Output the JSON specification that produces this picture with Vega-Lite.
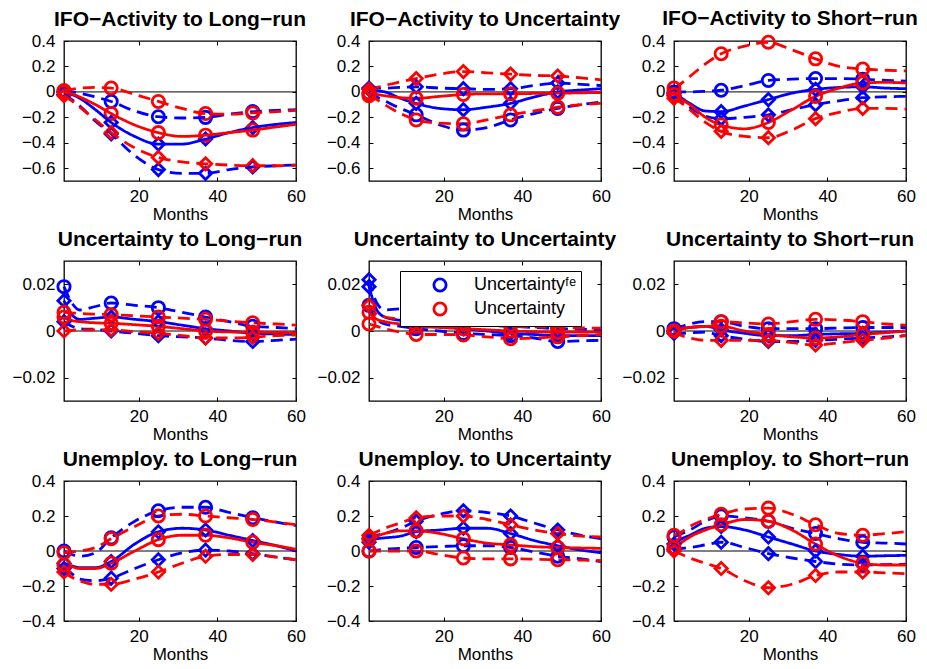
{
"$schema": "https://vega.github.io/schema/vega-lite/v6.json",
"background": "white",
"padding": {"left": 11, "top": 6, "right": 5, "bottom": 5},
"bounds": "flush",
"columns": 3,
"spacing": {"row": 80, "column": 73},
"data": {"values": [
{"p":1,"m":1,"fe16":-0.02,"fe50":0,"fe84":0,"u16":-0.03,"u50":0,"u84":0.01},
{"p":1,"m":3,"fe16":-0.06,"fe50":-0.02,"fe84":0,"u16":-0.07,"u50":-0.015,"u84":0.02},
{"p":1,"m":5,"fe16":-0.11,"fe50":-0.05,"fe84":-0.01,"u16":-0.12,"u50":-0.04,"u84":0.03},
{"p":1,"m":9,"fe16":-0.23,"fe50":-0.14,"fe84":-0.04,"u16":-0.22,"u50":-0.1,"u84":0.035},
{"p":1,"m":13,"fe16":-0.33,"fe50":-0.24,"fe84":-0.075,"u16":-0.32,"u50":-0.17,"u84":0.03},
{"p":1,"m":19,"fe16":-0.5,"fe50":-0.35,"fe84":-0.15,"u16":-0.44,"u50":-0.26,"u84":-0.02},
{"p":1,"m":25,"fe16":-0.61,"fe50":-0.41,"fe84":-0.195,"u16":-0.515,"u50":-0.32,"u84":-0.075},
{"p":1,"m":31,"fe16":-0.64,"fe50":-0.41,"fe84":-0.205,"u16":-0.55,"u50":-0.35,"u84":-0.13},
{"p":1,"m":37,"fe16":-0.64,"fe50":-0.37,"fe84":-0.2,"u16":-0.565,"u50":-0.34,"u84":-0.17},
{"p":1,"m":43,"fe16":-0.61,"fe50":-0.32,"fe84":-0.175,"u16":-0.575,"u50":-0.32,"u84":-0.175},
{"p":1,"m":49,"fe16":-0.59,"fe50":-0.28,"fe84":-0.155,"u16":-0.58,"u50":-0.3,"u84":-0.165},
{"p":1,"m":55,"fe16":-0.58,"fe50":-0.255,"fe84":-0.145,"u16":-0.58,"u50":-0.275,"u84":-0.155},
{"p":1,"m":60,"fe16":-0.575,"fe50":-0.24,"fe84":-0.14,"u16":-0.575,"u50":-0.255,"u84":-0.145},
{"p":2,"m":1,"fe16":0.03,"fe50":0.02,"fe84":-0.01,"u16":0.02,"u50":-0.01,"u84":-0.03},
{"p":2,"m":3,"fe16":0.03,"fe50":0.01,"fe84":-0.04,"u16":0.035,"u50":-0.02,"u84":-0.06},
{"p":2,"m":5,"fe16":0.03,"fe50":0,"fe84":-0.07,"u16":0.05,"u50":-0.03,"u84":-0.1},
{"p":2,"m":9,"fe16":0.035,"fe50":-0.05,"fe84":-0.13,"u16":0.08,"u50":-0.045,"u84":-0.17},
{"p":2,"m":13,"fe16":0.04,"fe50":-0.09,"fe84":-0.18,"u16":0.105,"u50":-0.05,"u84":-0.22},
{"p":2,"m":19,"fe16":0.03,"fe50":-0.13,"fe84":-0.26,"u16":0.14,"u50":-0.035,"u84":-0.245},
{"p":2,"m":25,"fe16":0.025,"fe50":-0.14,"fe84":-0.3,"u16":0.16,"u50":-0.02,"u84":-0.25},
{"p":2,"m":31,"fe16":0.02,"fe50":-0.12,"fe84":-0.28,"u16":0.15,"u50":-0.015,"u84":-0.22},
{"p":2,"m":37,"fe16":0.025,"fe50":-0.09,"fe84":-0.22,"u16":0.14,"u50":-0.015,"u84":-0.18},
{"p":2,"m":43,"fe16":0.05,"fe50":-0.04,"fe84":-0.17,"u16":0.13,"u50":-0.012,"u84":-0.15},
{"p":2,"m":49,"fe16":0.07,"fe50":0,"fe84":-0.13,"u16":0.125,"u50":-0.01,"u84":-0.12},
{"p":2,"m":55,"fe16":0.06,"fe50":0.015,"fe84":-0.1,"u16":0.11,"u50":-0.007,"u84":-0.1},
{"p":2,"m":60,"fe16":0.05,"fe50":0.025,"fe84":-0.08,"u16":0.095,"u50":-0.005,"u84":-0.09},
{"p":3,"m":1,"fe16":-0.03,"fe50":-0.01,"fe84":0,"u16":-0.05,"u50":-0.02,"u84":0.03},
{"p":3,"m":3,"fe16":-0.07,"fe50":-0.05,"fe84":0,"u16":-0.09,"u50":-0.06,"u84":0.07},
{"p":3,"m":5,"fe16":-0.12,"fe50":-0.09,"fe84":0,"u16":-0.14,"u50":-0.1,"u84":0.12},
{"p":3,"m":9,"fe16":-0.19,"fe50":-0.15,"fe84":0.005,"u16":-0.24,"u50":-0.2,"u84":0.22},
{"p":3,"m":13,"fe16":-0.21,"fe50":-0.155,"fe84":0.013,"u16":-0.31,"u50":-0.26,"u84":0.3},
{"p":3,"m":19,"fe16":-0.2,"fe50":-0.11,"fe84":0.05,"u16":-0.35,"u50":-0.29,"u84":0.36},
{"p":3,"m":25,"fe16":-0.18,"fe50":-0.06,"fe84":0.09,"u16":-0.36,"u50":-0.24,"u84":0.39},
{"p":3,"m":31,"fe16":-0.14,"fe50":-0.01,"fe84":0.1,"u16":-0.3,"u50":-0.14,"u84":0.33},
{"p":3,"m":37,"fe16":-0.1,"fe50":0.02,"fe84":0.105,"u16":-0.21,"u50":-0.035,"u84":0.26},
{"p":3,"m":43,"fe16":-0.07,"fe50":0.035,"fe84":0.105,"u16":-0.16,"u50":0.03,"u84":0.2},
{"p":3,"m":49,"fe16":-0.045,"fe50":0.04,"fe84":0.1,"u16":-0.13,"u50":0.07,"u84":0.18},
{"p":3,"m":55,"fe16":-0.038,"fe50":0.03,"fe84":0.09,"u16":-0.13,"u50":0.075,"u84":0.17},
{"p":3,"m":60,"fe16":-0.035,"fe50":0.025,"fe84":0.085,"u16":-0.135,"u50":0.07,"u84":0.165},
{"p":4,"m":1,"fe16":0.004,"fe50":0.013,"fe84":0.019,"u16":0,"u50":0.006,"u84":0.008},
{"p":4,"m":3,"fe16":0.002,"fe50":0.007,"fe84":0.012,"u16":0.0003,"u50":0.0045,"u84":0.0078},
{"p":4,"m":5,"fe16":0.001,"fe50":0.005,"fe84":0.009,"u16":0.0005,"u50":0.004,"u84":0.0075},
{"p":4,"m":9,"fe16":0.0007,"fe50":0.0055,"fe84":0.0105,"u16":0.0005,"u50":0.0035,"u84":0.0072},
{"p":4,"m":13,"fe16":0,"fe50":0.006,"fe84":0.012,"u16":0.0005,"u50":0.0033,"u84":0.007},
{"p":4,"m":19,"fe16":-0.001,"fe50":0.005,"fe84":0.011,"u16":-0.0003,"u50":0.0027,"u84":0.0065},
{"p":4,"m":25,"fe16":-0.002,"fe50":0.004,"fe84":0.01,"u16":-0.001,"u50":0.002,"u84":0.006},
{"p":4,"m":31,"fe16":-0.0025,"fe50":0.0025,"fe84":0.008,"u16":-0.002,"u50":0.001,"u84":0.0055},
{"p":4,"m":37,"fe16":-0.003,"fe50":0.001,"fe84":0.006,"u16":-0.003,"u50":0,"u84":0.005},
{"p":4,"m":43,"fe16":-0.004,"fe50":0,"fe84":0.004,"u16":-0.003,"u50":-0.0004,"u84":0.0042},
{"p":4,"m":49,"fe16":-0.0045,"fe50":-0.001,"fe84":0.002,"u16":-0.0027,"u50":-0.0005,"u84":0.0035},
{"p":4,"m":55,"fe16":-0.004,"fe50":-0.0013,"fe84":0.0015,"u16":-0.002,"u50":-0.0006,"u84":0.003},
{"p":4,"m":60,"fe16":-0.0035,"fe50":-0.0015,"fe84":0.001,"u16":-0.0017,"u50":-0.0007,"u84":0.0025},
{"p":5,"m":1,"fe16":0.022,"fe50":0.019,"fe84":0.011,"u16":0.011,"u50":0.008,"u84":0.003},
{"p":5,"m":3,"fe16":0.012,"fe50":0.009,"fe84":0.005,"u16":0.007,"u50":0.005,"u84":0.002},
{"p":5,"m":5,"fe16":0.009,"fe50":0.006,"fe84":0.003,"u16":0.006,"u50":0.004,"u84":0.001},
{"p":5,"m":9,"fe16":0.0095,"fe50":0.0045,"fe84":0.002,"u16":0.005,"u50":0.003,"u84":-0.0005},
{"p":5,"m":13,"fe16":0.007,"fe50":0.003,"fe84":0.001,"u16":0.004,"u50":0.002,"u84":-0.0015},
{"p":5,"m":19,"fe16":0.005,"fe50":0.002,"fe84":0,"u16":0.0035,"u50":0.0015,"u84":-0.0015},
{"p":5,"m":25,"fe16":0.003,"fe50":0.001,"fe84":-0.001,"u16":0.003,"u50":0.001,"u84":-0.0017},
{"p":5,"m":31,"fe16":0.0025,"fe50":0,"fe84":-0.0015,"u16":0.0025,"u50":0.0005,"u84":-0.0025},
{"p":5,"m":37,"fe16":0.002,"fe50":-0.001,"fe84":-0.002,"u16":0.002,"u50":0,"u84":-0.0033},
{"p":5,"m":43,"fe16":0.0015,"fe50":-0.0015,"fe84":-0.003,"u16":0.0018,"u50":-0.0003,"u84":-0.003},
{"p":5,"m":49,"fe16":0.001,"fe50":-0.002,"fe84":-0.0045,"u16":0.0015,"u50":-0.0005,"u84":-0.0025},
{"p":5,"m":55,"fe16":0.0008,"fe50":-0.002,"fe84":-0.0042,"u16":0.0013,"u50":-0.0005,"u84":-0.002},
{"p":5,"m":60,"fe16":0.0005,"fe50":-0.002,"fe84":-0.004,"u16":0.0012,"u50":-0.0005,"u84":-0.0015},
{"p":6,"m":1,"fe16":-0.001,"fe50":0,"fe84":0.001,"u16":0,"u50":0,"u84":0},
{"p":6,"m":3,"fe16":-0.001,"fe50":0.001,"fe84":0.002,"u16":-0.002,"u50":0.001,"u84":0.001},
{"p":6,"m":5,"fe16":-0.0008,"fe50":0.0015,"fe84":0.003,"u16":-0.003,"u50":0.0015,"u84":0.0015},
{"p":6,"m":9,"fe16":-0.0005,"fe50":0.002,"fe84":0.004,"u16":-0.004,"u50":0.002,"u84":0.002},
{"p":6,"m":13,"fe16":-0.002,"fe50":0.0005,"fe84":0.004,"u16":-0.004,"u50":0.002,"u84":0.004},
{"p":6,"m":19,"fe16":-0.0035,"fe50":-0.001,"fe84":0.002,"u16":-0.004,"u50":0,"u84":0.0035},
{"p":6,"m":25,"fe16":-0.0045,"fe50":-0.002,"fe84":0.001,"u16":-0.004,"u50":-0.0015,"u84":0.003},
{"p":6,"m":31,"fe16":-0.0045,"fe50":-0.002,"fe84":0.001,"u16":-0.005,"u50":-0.0025,"u84":0.004},
{"p":6,"m":37,"fe16":-0.004,"fe50":-0.0015,"fe84":0.001,"u16":-0.006,"u50":-0.003,"u84":0.005},
{"p":6,"m":43,"fe16":-0.0035,"fe50":-0.0012,"fe84":0.0013,"u16":-0.005,"u50":-0.0025,"u84":0.0047},
{"p":6,"m":49,"fe16":-0.003,"fe50":-0.001,"fe84":0.0015,"u16":-0.004,"u50":-0.0015,"u84":0.004},
{"p":6,"m":55,"fe16":-0.0025,"fe50":-0.0005,"fe84":0.0015,"u16":-0.003,"u50":-0.0007,"u84":0.003},
{"p":6,"m":60,"fe16":-0.002,"fe50":0,"fe84":0.0015,"u16":-0.002,"u50":0,"u84":0.0025},
{"p":7,"m":1,"fe16":-0.1,"fe50":-0.07,"fe84":0,"u16":-0.12,"u50":-0.08,"u84":-0.01},
{"p":7,"m":3,"fe16":-0.13,"fe50":-0.085,"fe84":-0.02,"u16":-0.15,"u50":-0.09,"u84":-0.005},
{"p":7,"m":5,"fe16":-0.16,"fe50":-0.095,"fe84":-0.03,"u16":-0.17,"u50":-0.1,"u84":0},
{"p":7,"m":9,"fe16":-0.17,"fe50":-0.095,"fe84":-0.01,"u16":-0.19,"u50":-0.1,"u84":0.02},
{"p":7,"m":13,"fe16":-0.155,"fe50":-0.06,"fe84":0.075,"u16":-0.19,"u50":-0.07,"u84":0.07},
{"p":7,"m":19,"fe16":-0.1,"fe50":0.04,"fe84":0.17,"u16":-0.16,"u50":0,"u84":0.14},
{"p":7,"m":25,"fe16":-0.05,"fe50":0.11,"fe84":0.23,"u16":-0.12,"u50":0.065,"u84":0.2},
{"p":7,"m":31,"fe16":-0.01,"fe50":0.13,"fe84":0.25,"u16":-0.07,"u50":0.09,"u84":0.21},
{"p":7,"m":37,"fe16":0.005,"fe50":0.12,"fe84":0.25,"u16":-0.03,"u50":0.09,"u84":0.2},
{"p":7,"m":43,"fe16":0,"fe50":0.09,"fe84":0.22,"u16":-0.02,"u50":0.075,"u84":0.19},
{"p":7,"m":49,"fe16":-0.015,"fe50":0.06,"fe84":0.19,"u16":-0.02,"u50":0.05,"u84":0.18},
{"p":7,"m":55,"fe16":-0.035,"fe50":0.03,"fe84":0.165,"u16":-0.035,"u50":0.03,"u84":0.165},
{"p":7,"m":60,"fe16":-0.05,"fe50":0,"fe84":0.145,"u16":-0.05,"u50":0.01,"u84":0.15},
{"p":8,"m":1,"fe16":0.07,"fe50":0.05,"fe84":0,"u16":0.09,"u50":0.07,"u84":0},
{"p":8,"m":3,"fe16":0.09,"fe50":0.07,"fe84":0.005,"u16":0.11,"u50":0.085,"u84":0},
{"p":8,"m":5,"fe16":0.1,"fe50":0.075,"fe84":0.01,"u16":0.13,"u50":0.1,"u84":0},
{"p":8,"m":9,"fe16":0.13,"fe50":0.085,"fe84":0.015,"u16":0.16,"u50":0.115,"u84":0},
{"p":8,"m":13,"fe16":0.17,"fe50":0.11,"fe84":0.02,"u16":0.19,"u50":0.115,"u84":0},
{"p":8,"m":19,"fe16":0.21,"fe50":0.12,"fe84":0.025,"u16":0.2,"u50":0.1,"u84":-0.02},
{"p":8,"m":25,"fe16":0.23,"fe50":0.13,"fe84":0.03,"u16":0.2,"u50":0.07,"u84":-0.04},
{"p":8,"m":31,"fe16":0.22,"fe50":0.13,"fe84":0.03,"u16":0.18,"u50":0.045,"u84":-0.045},
{"p":8,"m":37,"fe16":0.2,"fe50":0.1,"fe84":0.02,"u16":0.15,"u50":0.035,"u84":-0.045},
{"p":8,"m":43,"fe16":0.16,"fe50":0.06,"fe84":-0.005,"u16":0.12,"u50":0.025,"u84":-0.047},
{"p":8,"m":49,"fe16":0.12,"fe50":0.03,"fe84":-0.03,"u16":0.1,"u50":0.02,"u84":-0.05},
{"p":8,"m":55,"fe16":0.09,"fe50":0.005,"fe84":-0.045,"u16":0.085,"u50":0.017,"u84":-0.052},
{"p":8,"m":60,"fe16":0.07,"fe50":-0.01,"fe84":-0.06,"u16":0.08,"u50":0.015,"u84":-0.055},
{"p":9,"m":1,"fe16":0.01,"fe50":0.04,"fe84":0.08,"u16":0,"u50":0.02,"u84":0.09},
{"p":9,"m":3,"fe16":0.015,"fe50":0.07,"fe84":0.1,"u16":-0.02,"u50":0.05,"u84":0.11},
{"p":9,"m":5,"fe16":0.02,"fe50":0.09,"fe84":0.12,"u16":-0.04,"u50":0.08,"u84":0.14},
{"p":9,"m":9,"fe16":0.035,"fe50":0.13,"fe84":0.17,"u16":-0.07,"u50":0.12,"u84":0.18},
{"p":9,"m":13,"fe16":0.05,"fe50":0.14,"fe84":0.2,"u16":-0.1,"u50":0.15,"u84":0.21},
{"p":9,"m":19,"fe16":0.02,"fe50":0.12,"fe84":0.19,"u16":-0.17,"u50":0.18,"u84":0.24},
{"p":9,"m":25,"fe16":-0.015,"fe50":0.08,"fe84":0.17,"u16":-0.21,"u50":0.17,"u84":0.245},
{"p":9,"m":31,"fe16":-0.04,"fe50":0.04,"fe84":0.13,"u16":-0.19,"u50":0.12,"u84":0.21},
{"p":9,"m":37,"fe16":-0.06,"fe50":0,"fe84":0.1,"u16":-0.14,"u50":0.04,"u84":0.15},
{"p":9,"m":43,"fe16":-0.075,"fe50":-0.02,"fe84":0.07,"u16":-0.12,"u50":-0.03,"u84":0.1},
{"p":9,"m":49,"fe16":-0.08,"fe50":-0.03,"fe84":0.05,"u16":-0.12,"u50":-0.07,"u84":0.09},
{"p":9,"m":55,"fe16":-0.078,"fe50":-0.027,"fe84":0.045,"u16":-0.125,"u50":-0.08,"u84":0.1},
{"p":9,"m":60,"fe16":-0.075,"fe50":-0.025,"fe84":0.04,"u16":-0.13,"u50":-0.08,"u84":0.11}
]},
"transform": [
  {"fold": ["fe16","fe50","fe84","u16","u50","u84"], "as": ["key","v"]},
  {"calculate": "slice(datum.key, 0, -2)", "as": "model"},
  {"calculate": "'p' + slice(datum.key, -2)", "as": "pct"},
  {"calculate": "datum.pct == 'p50' ? datum.model : datum.pct", "as": "mk"}
],
"concat": [
  {"width": 232, "height": 140, "title": {"text": "IFO−Activity to Long−run", "offset": 2},
   "resolve": {"axis": {"x": "independent", "y": "independent"}},
   "layer": [
    {"data": {"values": [{}]}, "mark": {"type": "rule", "color": "black", "strokeWidth": 1}, "encoding": {"y": {"datum": 0, "axis": null}}},
    {"transform": [{"filter": "datum.p == 1 && datum.m % 12 == 1"}], "mark": {"type": "point", "filled": false, "opacity": 1, "strokeWidth": 2.8, "size": 150},
     "encoding": {"x": {"field": "m", "type": "quantitative", "axis": {"orient": "top", "labels": false, "title": null, "values": [20, 40, 60]}},
      "y": {"field": "v", "type": "quantitative", "axis": {"orient": "right", "labels": false, "title": null, "values": [-0.6, -0.4, -0.2, 0, 0.2, 0.4]}},
      "color": {"field": "model", "type": "nominal", "scale": {"domain": ["fe", "u"], "range": ["#0000ff", "#ff0000"]}, "legend": {"orient": "none", "legendX": 336, "legendY": 230, "title": null, "direction": "vertical", "strokeColor": "black", "fillColor": "white", "padding": 5, "labelFontSize": 18, "labelColor": "black", "symbolStrokeWidth": 2.8, "symbolSize": 150, "symbolOffset": 26, "labelOffset": 25, "rowPadding": 0, "labelExpr": "datum.value == 'fe' ? 'Uncertaintyᶠᵉ' : 'Uncertainty'", "encode": {"symbols": {"update": {"shape": {"signal": "datum.value == 'fe' ? 'diamond' : 'circle'"}}}}}},
      "shape": {"field": "mk", "type": "nominal", "scale": {"domain": ["fe", "u", "p16", "p84"], "range": ["diamond", "circle", "diamond", "circle"]}, "legend": null}}},
    {"transform": [{"filter": "datum.p == 1"}], "mark": {"type": "line", "interpolate": "monotone", "strokeWidth": 2.8},
     "encoding": {"x": {"field": "m", "type": "quantitative", "scale": {"domain": [1, 60], "nice": false, "zero": false}, "axis": {"values": [20, 40, 60], "title": "Months"}},
      "y": {"field": "v", "type": "quantitative", "scale": {"domain": [-0.7, 0.4], "nice": false, "zero": false}, "axis": {"values": [-0.6, -0.4, -0.2, 0, 0.2, 0.4], "format": "~g", "title": null}},
      "color": {"field": "model", "type": "nominal"},
      "strokeDash": {"field": "pct", "type": "nominal", "scale": {"domain": ["p50", "p16", "p84"], "range": [[1, 0], [12, 7], [12, 7]]}, "legend": null}}}
   ]},
  {"width": 232, "height": 140, "title": {"text": "IFO−Activity to Uncertainty", "offset": 2},
   "resolve": {"axis": {"x": "independent", "y": "independent"}},
   "layer": [
    {"data": {"values": [{}]}, "mark": {"type": "rule", "color": "black", "strokeWidth": 1}, "encoding": {"y": {"datum": 0, "axis": null}}},
    {"transform": [{"filter": "datum.p == 2"}], "mark": {"type": "line", "interpolate": "monotone", "strokeWidth": 2.8},
     "encoding": {"x": {"field": "m", "type": "quantitative", "scale": {"domain": [1, 60], "nice": false, "zero": false}, "axis": {"values": [20, 40, 60], "title": "Months"}},
      "y": {"field": "v", "type": "quantitative", "scale": {"domain": [-0.7, 0.4], "nice": false, "zero": false}, "axis": {"values": [-0.6, -0.4, -0.2, 0, 0.2, 0.4], "format": "~g", "title": null}},
      "color": {"field": "model", "type": "nominal", "scale": {"domain": ["fe", "u"], "range": ["#0000ff", "#ff0000"]}},
      "strokeDash": {"field": "pct", "type": "nominal", "scale": {"domain": ["p50", "p16", "p84"], "range": [[1, 0], [12, 7], [12, 7]]}, "legend": null}}},
    {"transform": [{"filter": "datum.p == 2 && datum.m % 12 == 1"}], "mark": {"type": "point", "filled": false, "opacity": 1, "strokeWidth": 2.8, "size": 150},
     "encoding": {"x": {"field": "m", "type": "quantitative", "axis": {"orient": "top", "labels": false, "title": null, "values": [20, 40, 60]}},
      "y": {"field": "v", "type": "quantitative", "axis": {"orient": "right", "labels": false, "title": null, "values": [-0.6, -0.4, -0.2, 0, 0.2, 0.4]}},
      "color": {"field": "model", "type": "nominal"},
      "shape": {"field": "mk", "type": "nominal", "scale": {"domain": ["fe", "u", "p16", "p84"], "range": ["diamond", "circle", "diamond", "circle"]}, "legend": null}}}
   ]},
  {"width": 232, "height": 140, "title": {"text": "IFO−Activity to Short−run", "offset": 2},
   "resolve": {"axis": {"x": "independent", "y": "independent"}},
   "layer": [
    {"data": {"values": [{}]}, "mark": {"type": "rule", "color": "black", "strokeWidth": 1}, "encoding": {"y": {"datum": 0, "axis": null}}},
    {"transform": [{"filter": "datum.p == 3"}], "mark": {"type": "line", "interpolate": "monotone", "strokeWidth": 2.8},
     "encoding": {"x": {"field": "m", "type": "quantitative", "scale": {"domain": [1, 60], "nice": false, "zero": false}, "axis": {"values": [20, 40, 60], "title": "Months"}},
      "y": {"field": "v", "type": "quantitative", "scale": {"domain": [-0.7, 0.4], "nice": false, "zero": false}, "axis": {"values": [-0.6, -0.4, -0.2, 0, 0.2, 0.4], "format": "~g", "title": null}},
      "color": {"field": "model", "type": "nominal", "scale": {"domain": ["fe", "u"], "range": ["#0000ff", "#ff0000"]}},
      "strokeDash": {"field": "pct", "type": "nominal", "scale": {"domain": ["p50", "p16", "p84"], "range": [[1, 0], [12, 7], [12, 7]]}, "legend": null}}},
    {"transform": [{"filter": "datum.p == 3 && datum.m % 12 == 1"}], "mark": {"type": "point", "filled": false, "opacity": 1, "strokeWidth": 2.8, "size": 150},
     "encoding": {"x": {"field": "m", "type": "quantitative", "axis": {"orient": "top", "labels": false, "title": null, "values": [20, 40, 60]}},
      "y": {"field": "v", "type": "quantitative", "axis": {"orient": "right", "labels": false, "title": null, "values": [-0.6, -0.4, -0.2, 0, 0.2, 0.4]}},
      "color": {"field": "model", "type": "nominal"},
      "shape": {"field": "mk", "type": "nominal", "scale": {"domain": ["fe", "u", "p16", "p84"], "range": ["diamond", "circle", "diamond", "circle"]}, "legend": null}}}
   ]},
  {"width": 232, "height": 140, "title": {"text": "Uncertainty to Long−run", "offset": 11},
   "resolve": {"axis": {"x": "independent", "y": "independent"}},
   "layer": [
    {"data": {"values": [{}]}, "mark": {"type": "rule", "color": "black", "strokeWidth": 1}, "encoding": {"y": {"datum": 0, "axis": null}}},
    {"transform": [{"filter": "datum.p == 4"}], "mark": {"type": "line", "interpolate": "monotone", "strokeWidth": 2.8},
     "encoding": {"x": {"field": "m", "type": "quantitative", "scale": {"domain": [1, 60], "nice": false, "zero": false}, "axis": {"values": [20, 40, 60], "title": "Months"}},
      "y": {"field": "v", "type": "quantitative", "scale": {"domain": [-0.03, 0.03], "nice": false, "zero": false}, "axis": {"values": [-0.02, 0, 0.02], "format": "~g", "title": null}},
      "color": {"field": "model", "type": "nominal", "scale": {"domain": ["fe", "u"], "range": ["#0000ff", "#ff0000"]}},
      "strokeDash": {"field": "pct", "type": "nominal", "scale": {"domain": ["p50", "p16", "p84"], "range": [[1, 0], [12, 7], [12, 7]]}, "legend": null}}},
    {"transform": [{"filter": "datum.p == 4 && datum.m % 12 == 1"}], "mark": {"type": "point", "filled": false, "opacity": 1, "strokeWidth": 2.8, "size": 150},
     "encoding": {"x": {"field": "m", "type": "quantitative", "axis": {"orient": "top", "labels": false, "title": null, "values": [20, 40, 60]}},
      "y": {"field": "v", "type": "quantitative", "axis": {"orient": "right", "labels": false, "title": null, "values": [-0.02, 0, 0.02]}},
      "color": {"field": "model", "type": "nominal"},
      "shape": {"field": "mk", "type": "nominal", "scale": {"domain": ["fe", "u", "p16", "p84"], "range": ["diamond", "circle", "diamond", "circle"]}, "legend": null}}}
   ]},
  {"width": 232, "height": 140, "title": {"text": "Uncertainty to Uncertainty", "offset": 11},
   "resolve": {"axis": {"x": "independent", "y": "independent"}},
   "layer": [
    {"data": {"values": [{}]}, "mark": {"type": "rule", "color": "black", "strokeWidth": 1}, "encoding": {"y": {"datum": 0, "axis": null}}},
    {"transform": [{"filter": "datum.p == 5"}], "mark": {"type": "line", "interpolate": "monotone", "strokeWidth": 2.8},
     "encoding": {"x": {"field": "m", "type": "quantitative", "scale": {"domain": [1, 60], "nice": false, "zero": false}, "axis": {"values": [20, 40, 60], "title": "Months"}},
      "y": {"field": "v", "type": "quantitative", "scale": {"domain": [-0.03, 0.03], "nice": false, "zero": false}, "axis": {"values": [-0.02, 0, 0.02], "format": "~g", "title": null}},
      "color": {"field": "model", "type": "nominal", "scale": {"domain": ["fe", "u"], "range": ["#0000ff", "#ff0000"]}},
      "strokeDash": {"field": "pct", "type": "nominal", "scale": {"domain": ["p50", "p16", "p84"], "range": [[1, 0], [12, 7], [12, 7]]}, "legend": null}}},
    {"transform": [{"filter": "datum.p == 5 && datum.m % 12 == 1"}], "mark": {"type": "point", "filled": false, "opacity": 1, "strokeWidth": 2.8, "size": 150},
     "encoding": {"x": {"field": "m", "type": "quantitative", "axis": {"orient": "top", "labels": false, "title": null, "values": [20, 40, 60]}},
      "y": {"field": "v", "type": "quantitative", "axis": {"orient": "right", "labels": false, "title": null, "values": [-0.02, 0, 0.02]}},
      "color": {"field": "model", "type": "nominal"},
      "shape": {"field": "mk", "type": "nominal", "scale": {"domain": ["fe", "u", "p16", "p84"], "range": ["diamond", "circle", "diamond", "circle"]}, "legend": null}}}
   ]},
  {"width": 232, "height": 140, "title": {"text": "Uncertainty to Short−run", "offset": 11},
   "resolve": {"axis": {"x": "independent", "y": "independent"}},
   "layer": [
    {"data": {"values": [{}]}, "mark": {"type": "rule", "color": "black", "strokeWidth": 1}, "encoding": {"y": {"datum": 0, "axis": null}}},
    {"transform": [{"filter": "datum.p == 6"}], "mark": {"type": "line", "interpolate": "monotone", "strokeWidth": 2.8},
     "encoding": {"x": {"field": "m", "type": "quantitative", "scale": {"domain": [1, 60], "nice": false, "zero": false}, "axis": {"values": [20, 40, 60], "title": "Months"}},
      "y": {"field": "v", "type": "quantitative", "scale": {"domain": [-0.03, 0.03], "nice": false, "zero": false}, "axis": {"values": [-0.02, 0, 0.02], "format": "~g", "title": null}},
      "color": {"field": "model", "type": "nominal", "scale": {"domain": ["fe", "u"], "range": ["#0000ff", "#ff0000"]}},
      "strokeDash": {"field": "pct", "type": "nominal", "scale": {"domain": ["p50", "p16", "p84"], "range": [[1, 0], [12, 7], [12, 7]]}, "legend": null}}},
    {"transform": [{"filter": "datum.p == 6 && datum.m % 12 == 1"}], "mark": {"type": "point", "filled": false, "opacity": 1, "strokeWidth": 2.8, "size": 150},
     "encoding": {"x": {"field": "m", "type": "quantitative", "axis": {"orient": "top", "labels": false, "title": null, "values": [20, 40, 60]}},
      "y": {"field": "v", "type": "quantitative", "axis": {"orient": "right", "labels": false, "title": null, "values": [-0.02, 0, 0.02]}},
      "color": {"field": "model", "type": "nominal"},
      "shape": {"field": "mk", "type": "nominal", "scale": {"domain": ["fe", "u", "p16", "p84"], "range": ["diamond", "circle", "diamond", "circle"]}, "legend": null}}}
   ]},
  {"width": 232, "height": 140, "title": {"text": "Unemploy. to Long−run", "offset": 2},
   "resolve": {"axis": {"x": "independent", "y": "independent"}},
   "layer": [
    {"data": {"values": [{}]}, "mark": {"type": "rule", "color": "black", "strokeWidth": 1}, "encoding": {"y": {"datum": 0, "axis": null}}},
    {"transform": [{"filter": "datum.p == 7"}], "mark": {"type": "line", "interpolate": "monotone", "strokeWidth": 2.8},
     "encoding": {"x": {"field": "m", "type": "quantitative", "scale": {"domain": [1, 60], "nice": false, "zero": false}, "axis": {"values": [20, 40, 60], "title": "Months"}},
      "y": {"field": "v", "type": "quantitative", "scale": {"domain": [-0.4, 0.4], "nice": false, "zero": false}, "axis": {"values": [-0.4, -0.2, 0, 0.2, 0.4], "format": "~g", "title": null}},
      "color": {"field": "model", "type": "nominal", "scale": {"domain": ["fe", "u"], "range": ["#0000ff", "#ff0000"]}},
      "strokeDash": {"field": "pct", "type": "nominal", "scale": {"domain": ["p50", "p16", "p84"], "range": [[1, 0], [12, 7], [12, 7]]}, "legend": null}}},
    {"transform": [{"filter": "datum.p == 7 && datum.m % 12 == 1"}], "mark": {"type": "point", "filled": false, "opacity": 1, "strokeWidth": 2.8, "size": 150},
     "encoding": {"x": {"field": "m", "type": "quantitative", "axis": {"orient": "top", "labels": false, "title": null, "values": [20, 40, 60]}},
      "y": {"field": "v", "type": "quantitative", "axis": {"orient": "right", "labels": false, "title": null, "values": [-0.4, -0.2, 0, 0.2, 0.4]}},
      "color": {"field": "model", "type": "nominal"},
      "shape": {"field": "mk", "type": "nominal", "scale": {"domain": ["fe", "u", "p16", "p84"], "range": ["diamond", "circle", "diamond", "circle"]}, "legend": null}}}
   ]},
  {"width": 232, "height": 140, "title": {"text": "Unemploy. to Uncertainty", "offset": 2},
   "resolve": {"axis": {"x": "independent", "y": "independent"}},
   "layer": [
    {"data": {"values": [{}]}, "mark": {"type": "rule", "color": "black", "strokeWidth": 1}, "encoding": {"y": {"datum": 0, "axis": null}}},
    {"transform": [{"filter": "datum.p == 8"}], "mark": {"type": "line", "interpolate": "monotone", "strokeWidth": 2.8},
     "encoding": {"x": {"field": "m", "type": "quantitative", "scale": {"domain": [1, 60], "nice": false, "zero": false}, "axis": {"values": [20, 40, 60], "title": "Months"}},
      "y": {"field": "v", "type": "quantitative", "scale": {"domain": [-0.4, 0.4], "nice": false, "zero": false}, "axis": {"values": [-0.4, -0.2, 0, 0.2, 0.4], "format": "~g", "title": null}},
      "color": {"field": "model", "type": "nominal", "scale": {"domain": ["fe", "u"], "range": ["#0000ff", "#ff0000"]}},
      "strokeDash": {"field": "pct", "type": "nominal", "scale": {"domain": ["p50", "p16", "p84"], "range": [[1, 0], [12, 7], [12, 7]]}, "legend": null}}},
    {"transform": [{"filter": "datum.p == 8 && datum.m % 12 == 1"}], "mark": {"type": "point", "filled": false, "opacity": 1, "strokeWidth": 2.8, "size": 150},
     "encoding": {"x": {"field": "m", "type": "quantitative", "axis": {"orient": "top", "labels": false, "title": null, "values": [20, 40, 60]}},
      "y": {"field": "v", "type": "quantitative", "axis": {"orient": "right", "labels": false, "title": null, "values": [-0.4, -0.2, 0, 0.2, 0.4]}},
      "color": {"field": "model", "type": "nominal"},
      "shape": {"field": "mk", "type": "nominal", "scale": {"domain": ["fe", "u", "p16", "p84"], "range": ["diamond", "circle", "diamond", "circle"]}, "legend": null}}}
   ]},
  {"width": 232, "height": 140, "title": {"text": "Unemploy. to Short−run", "offset": 2},
   "resolve": {"axis": {"x": "independent", "y": "independent"}},
   "layer": [
    {"data": {"values": [{}]}, "mark": {"type": "rule", "color": "black", "strokeWidth": 1}, "encoding": {"y": {"datum": 0, "axis": null}}},
    {"transform": [{"filter": "datum.p == 9"}], "mark": {"type": "line", "interpolate": "monotone", "strokeWidth": 2.8},
     "encoding": {"x": {"field": "m", "type": "quantitative", "scale": {"domain": [1, 60], "nice": false, "zero": false}, "axis": {"values": [20, 40, 60], "title": "Months"}},
      "y": {"field": "v", "type": "quantitative", "scale": {"domain": [-0.4, 0.4], "nice": false, "zero": false}, "axis": {"values": [-0.4, -0.2, 0, 0.2, 0.4], "format": "~g", "title": null}},
      "color": {"field": "model", "type": "nominal", "scale": {"domain": ["fe", "u"], "range": ["#0000ff", "#ff0000"]}},
      "strokeDash": {"field": "pct", "type": "nominal", "scale": {"domain": ["p50", "p16", "p84"], "range": [[1, 0], [12, 7], [12, 7]]}, "legend": null}}},
    {"transform": [{"filter": "datum.p == 9 && datum.m % 12 == 1"}], "mark": {"type": "point", "filled": false, "opacity": 1, "strokeWidth": 2.8, "size": 150},
     "encoding": {"x": {"field": "m", "type": "quantitative", "axis": {"orient": "top", "labels": false, "title": null, "values": [20, 40, 60]}},
      "y": {"field": "v", "type": "quantitative", "axis": {"orient": "right", "labels": false, "title": null, "values": [-0.4, -0.2, 0, 0.2, 0.4]}},
      "color": {"field": "model", "type": "nominal"},
      "shape": {"field": "mk", "type": "nominal", "scale": {"domain": ["fe", "u", "p16", "p84"], "range": ["diamond", "circle", "diamond", "circle"]}, "legend": null}}}
   ]}
],
"config": {
  "font": "Liberation Sans",
  "view": {"stroke": "black", "strokeWidth": 1.3},
  "axis": {"grid": false, "domain": false, "tickColor": "black", "tickSize": -4, "tickWidth": 1, "labelFontSize": 17, "labelColor": "black", "labelFlush": false, "labelOverlap": false, "labelPadding": 11, "titleFontSize": 17, "titleFontWeight": "normal", "titleColor": "black"},
  "axisY": {"labelPadding": 13},
  "axisX": {"titlePadding": 2},
  "title": {"fontSize": 21, "fontWeight": "bold", "anchor": "middle", "frame": "group", "color": "black"}
}
}
